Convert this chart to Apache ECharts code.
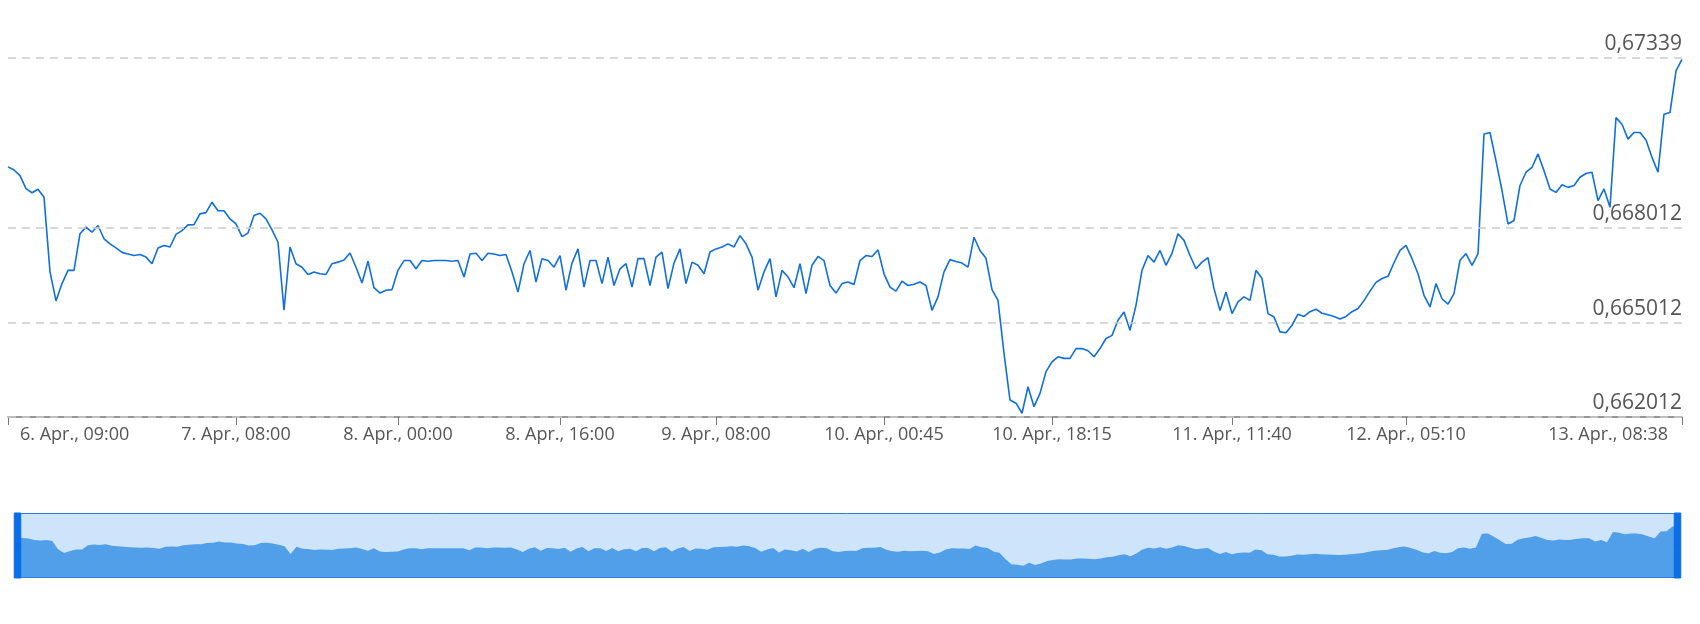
<!DOCTYPE html>
<html>
<head>
<meta charset="utf-8">
<script src="https://cdn.jsdelivr.net/npm/echarts@6/dist/echarts.min.js"></script>
<style>
  html, body { margin: 0; padding: 0; background: #fff; }
  #main { width: 1700px; height: 624px; }
</style>
</head>
<body>
<div id="main"></div>
<script>
var rates = [
  0.66994, 0.66984, 0.66966, 0.66925, 0.66912, 0.66923, 0.66898, 0.66661, 0.66569, 0.66624,
  0.66666, 0.66666, 0.66782, 0.66803, 0.66787, 0.66808, 0.66766, 0.66750, 0.66737, 0.66723,
  0.66718, 0.66713, 0.66716, 0.66708, 0.66687, 0.66737, 0.66745, 0.66740, 0.66780, 0.66792,
  0.66810, 0.66811, 0.66845, 0.66849, 0.66882, 0.66855, 0.66855, 0.66829, 0.66813, 0.66773,
  0.66784, 0.66840, 0.66847, 0.66829, 0.66794, 0.66755, 0.66540, 0.66740, 0.66687, 0.66676,
  0.66653, 0.66661, 0.66655, 0.66653, 0.66687, 0.66692, 0.66699, 0.66721, 0.66676, 0.66626,
  0.66695, 0.66611, 0.66594, 0.66603, 0.66605, 0.66666, 0.66697, 0.66697, 0.66671, 0.66697,
  0.66695, 0.66697, 0.66697, 0.66697, 0.66695, 0.66697, 0.66645, 0.66718, 0.66720, 0.66697,
  0.66720, 0.66718, 0.66713, 0.66716, 0.66661, 0.66597, 0.66687, 0.66729, 0.66629, 0.66703,
  0.66697, 0.66676, 0.66713, 0.66603, 0.66689, 0.66734, 0.66613, 0.66697, 0.66697, 0.66624,
  0.66708, 0.66618, 0.66671, 0.66687, 0.66613, 0.66703, 0.66703, 0.66618, 0.66708, 0.66724,
  0.66608, 0.66689, 0.66734, 0.66624, 0.66692, 0.66682, 0.66655, 0.66724, 0.66734, 0.66740,
  0.66750, 0.66740, 0.66776, 0.66750, 0.66708, 0.66603, 0.66661, 0.66703, 0.66582, 0.66666,
  0.66645, 0.66611, 0.66687, 0.66592, 0.66682, 0.66710, 0.66697, 0.66618, 0.66594, 0.66624,
  0.66629, 0.66621, 0.66697, 0.66713, 0.66710, 0.66731, 0.66655, 0.66613, 0.66600, 0.66632,
  0.66618, 0.66622, 0.66629, 0.66618, 0.66539, 0.66582, 0.66661, 0.66700, 0.66694, 0.66689,
  0.66676, 0.66771, 0.66729, 0.66704, 0.66605, 0.66571, 0.66403, 0.66255, 0.66245, 0.66213,
  0.66297, 0.66234, 0.66276, 0.66345, 0.66376, 0.66392, 0.66387, 0.66387, 0.66418, 0.66418,
  0.66411, 0.66392, 0.66418, 0.66450, 0.66460, 0.66508, 0.66534, 0.66476, 0.66555, 0.66666,
  0.66713, 0.66692, 0.66729, 0.66682, 0.66720, 0.66782, 0.66761, 0.66713, 0.66671, 0.66692,
  0.66706, 0.66608, 0.66539, 0.66597, 0.66529, 0.66566, 0.66582, 0.66571, 0.66666, 0.66640,
  0.66529, 0.66518, 0.66471, 0.66468, 0.66492, 0.66527, 0.66520, 0.66535, 0.66543, 0.66530,
  0.66525, 0.66520, 0.66512, 0.66520, 0.66535, 0.66545, 0.66570, 0.66600, 0.66628, 0.66640,
  0.66647, 0.66690, 0.66729, 0.66745, 0.66703, 0.66655, 0.66587, 0.66550, 0.66624, 0.66576,
  0.66559, 0.66592, 0.66698, 0.66719, 0.66682, 0.66719, 0.67098, 0.67103, 0.67013, 0.66919,
  0.66813, 0.66824, 0.66935, 0.66977, 0.66992, 0.67035, 0.66982, 0.66924, 0.66913, 0.66937,
  0.66929, 0.66935, 0.66961, 0.66973, 0.66977, 0.66887, 0.66924, 0.66866, 0.67150, 0.67129,
  0.67082, 0.67103, 0.67103, 0.67079, 0.67024, 0.66977, 0.67161, 0.67166, 0.67298, 0.67335
];

// positions in the series where the x labels sit
var tickIdx = [0, 38, 65, 92, 118, 146, 174, 204, 233, 279];
var tickLabels = ['6. Apr., 09:00', '7. Apr., 08:00', '8. Apr., 00:00', '8. Apr., 16:00', '9. Apr., 08:00',
  '10. Apr., 00:45', '10. Apr., 18:15', '11. Apr., 11:40', '12. Apr., 05:10', '13. Apr., 08:38'];
var yTicks = [0.662012, 0.665012, 0.668012, 0.67339];

var categories = rates.map(function (v, i) { return String(i); });

var chart = echarts.init(document.getElementById('main'));
var showTick = function (idx) { return tickIdx.indexOf(idx) >= 0; };

chart.setOption({
  animation: false,
  textStyle: { fontFamily: 'Open Sans' },
  grid: { left: 8, right: 18, top: 58, bottom: 207 },
  xAxis: {
    type: 'category',
    boundaryGap: false,
    data: categories,
    axisLine: { lineStyle: { color: '#777', width: 1.5 } },
    axisTick: { interval: showTick, length: 8, lineStyle: { color: '#777' } },
    axisLabel: {
      interval: showTick,
      color: '#555',
      fontSize: 18,
      margin: 9,
      hideOverlap: false,
      alignMinLabel: 'left',
      alignMaxLabel: 'right',
      formatter: function (v, idx) {
        var k = tickIdx.indexOf(idx);
        if (k < 0) return '';
        if (k === 0) return '{a|' + tickLabels[k] + '}';
        if (k === tickLabels.length - 1) return '{b|' + tickLabels[k] + '}';
        return tickLabels[k];
      },
      rich: {
        a: { color: '#555', fontSize: 18, padding: [0, 0, 0, 12] },
        b: { color: '#555', fontSize: 18, padding: [0, 14, 0, 0] }
      }
    },
    splitLine: { show: false }
  },
  yAxis: {
    type: 'value',
    position: 'right',
    min: yTicks[0],
    max: yTicks[yTicks.length - 1],
    axisLine: { show: false },
    axisTick: { show: false },
    axisLabel: { show: false },
    splitLine: { show: false }
  },
  dataZoom: [{
    type: 'slider',
    start: 0,
    end: 100,
    left: 14,
    right: 24,
    top: 513,
    height: 65,
    showDetail: false,
    brushSelect: false,
    moveHandleSize: 0,
    borderColor: '#2a7fe0',
    backgroundColor: '#cde4fa',
    fillerColor: 'rgba(0,0,0,0)',
    handleIcon: 'path://M0,0 H10 V100 H0 Z M2,46 H8 V47.5 H2 Z M2,51 H8 V52.5 H2 Z',
    handleSize: '100%',
    handleStyle: { color: '#0a6ee6', borderColor: '#0a6ee6' },
    emphasis: { handleStyle: { color: '#0a6ee6', borderColor: '#0a6ee6' } },
    dataBackground: {
      lineStyle: { opacity: 0 },
      areaStyle: { color: '#519ee9', opacity: 1 }
    },
    selectedDataBackground: {
      lineStyle: { opacity: 0 },
      areaStyle: { color: '#519ee9', opacity: 1 }
    }
  }],
  series: [{
    type: 'line',
    data: rates,
    showSymbol: false,
    symbol: 'none',
    lineStyle: { color: '#0f6fdc', width: 1.6 },
    markLine: {
      silent: true,
      symbol: 'none',
      precision: 6,
      lineStyle: { color: '#ccc', type: [8, 6], width: 1.5 },
      label: {
        position: 'insideEndTop',
        distance: [0, 3],
        color: '#555',
        fontSize: 21,
        formatter: function (p) { return String(p.value).replace('.', ','); }
      },
      data: yTicks.map(function (v) { return { yAxis: v }; })
    }
  }]
});
</script>
</body>
</html>
